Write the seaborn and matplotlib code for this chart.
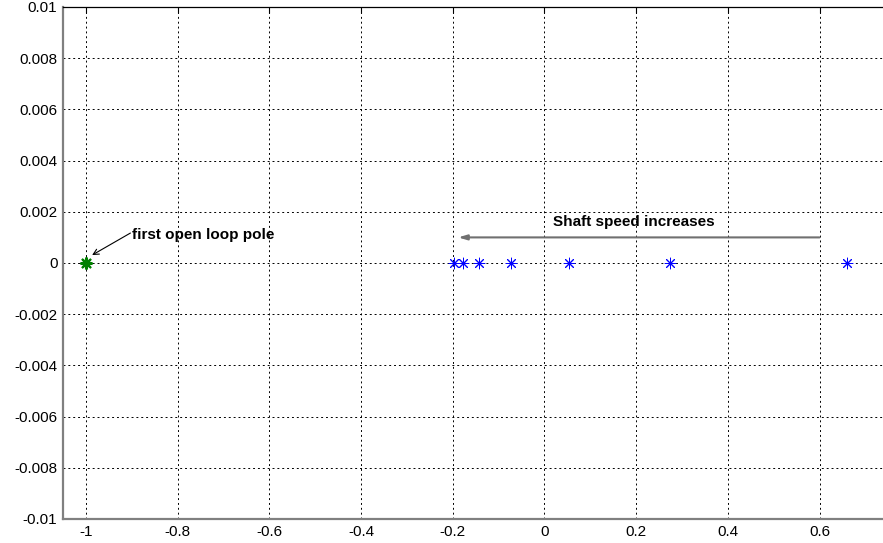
import numpy as np
import pandas as pd
import matplotlib
matplotlib.use("Agg")
import matplotlib.pyplot as plt
from matplotlib.ticker import FuncFormatter
import seaborn as sns

# closed loop poles as shaft speed changes (real, imag)
pole_re = [-0.198, -0.178, -0.142, -0.072, 0.0545, 0.273, 0.659]
pole_im = [0, 0, 0, 0, 0, 0, 0]
# first open loop pole
open_re = [-1.0]
open_im = [0]

x_ticks = [-1, -0.8, -0.6, -0.4, -0.2, 0, 0.2, 0.4, 0.6]
y_ticks = [-0.01, -0.008, -0.006, -0.004, -0.002, 0, 0.002, 0.004, 0.006, 0.008, 0.01]

sns.set_style("white")
plt.rcParams['font.family'] = ['Liberation Sans', 'DejaVu Sans']
plt.rcParams['axes.unicode_minus'] = False
plt.rcParams['text.color'] = 'black'

poles = pd.DataFrame({'re': pole_re, 'im': pole_im})
first = pd.DataFrame({'re': open_re, 'im': open_im})

fig = plt.figure(figsize=(8.83, 5.43), dpi=100)
ax = fig.add_axes([63 / 883, 24 / 543, 1.8 * 458.5 / 883, 512 / 543])

star = (8, 2, 0)
sns.scatterplot(data=poles, x='re', y='im', marker=star, s=60,
                color='#0000ff', edgecolor='#0000ff', linewidth=0.7, ax=ax, zorder=3)
sns.scatterplot(data=first, x='re', y='im', marker=star, s=60,
                color='#008000', edgecolor='#008000', linewidth=1.6, ax=ax, zorder=3)

ax.set_xlim(-1.05, 0.75)
ax.set_ylim(-0.01, 0.01)
ax.set_xticks(x_ticks)
ax.set_yticks(y_ticks)
ax.yaxis.set_major_formatter(FuncFormatter(lambda v, p: '{:g}'.format(round(v, 4))))
ax.xaxis.set_major_formatter(FuncFormatter(lambda v, p: '{:g}'.format(round(v, 2))))
ax.tick_params(direction='in', length=4, labelsize=11, top=True, colors='black', pad=4)
ax.set_xlabel('')
ax.set_ylabel('')
ax.grid(True, linestyle=(0, (2, 3)), color='black', linewidth=0.7)

for side in ['left', 'bottom']:
    ax.spines[side].set_color('#808080')
    ax.spines[side].set_linewidth(1.6)
ax.spines['top'].set_color('black')
ax.spines['top'].set_linewidth(0.9)
ax.spines['right'].set_visible(False)

# annotations
ax.annotate('', xy=(-0.9865, 0.00031), xytext=(-0.903, 0.00117),
            arrowprops=dict(arrowstyle='->', color='black', lw=0.8,
                            shrinkA=0, shrinkB=0))
ax.text(-0.899, 0.0011, 'first open loop pole', fontsize=11, fontweight='bold',
        va='center', ha='left', color='black')
ax.annotate('', xy=(-0.188, 0.001), xytext=(0.6, 0.001),
            arrowprops=dict(arrowstyle='-|>,head_length=0.5,head_width=0.15',
                            color='#707070', lw=1.5, shrinkA=0, shrinkB=0))
ax.text(0.019, 0.0016, 'Shaft speed increases', fontsize=11, fontweight='bold',
        va='center', ha='left', color='black')

fig.savefig('out.png', dpi=100)
